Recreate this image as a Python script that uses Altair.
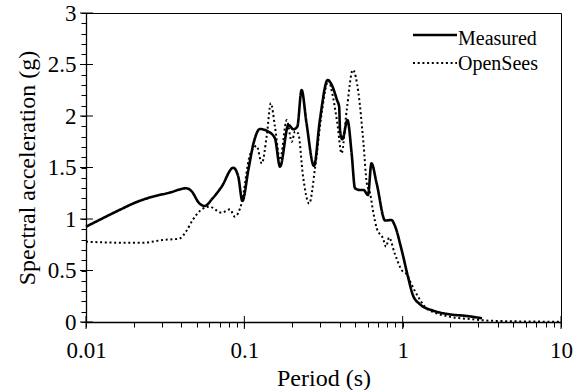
import altair as alt
import pandas as pd

# Measured response spectrum (period s, Sa g)
meas_T = [0.01, 0.01275, 0.01624, 0.02069, 0.02636, 0.0336, 0.0428, 0.0461, 0.052, 0.056,
          0.063, 0.0719, 0.0852, 0.0916, 0.0972, 0.106, 0.1143, 0.1255, 0.142, 0.156,
          0.168, 0.19, 0.204, 0.216, 0.23, 0.247, 0.2754, 0.3, 0.3364, 0.357,
          0.3848, 0.397, 0.402, 0.416, 0.448, 0.476, 0.50, 0.536, 0.5665, 0.604,
          0.635, 0.685, 0.776, 0.85, 0.89, 0.985, 1.08, 1.16, 1.28, 1.56,
          1.97, 2.55, 3.17]
meas_Sa = [0.925, 1.007, 1.087, 1.162, 1.217, 1.255, 1.298, 1.275, 1.152, 1.126,
           1.20, 1.314, 1.498, 1.41, 1.175, 1.476, 1.735, 1.874, 1.848, 1.784,
           1.508, 1.913, 1.871, 1.896, 2.252, 1.93, 1.515, 1.961, 2.35, 2.30,
           2.155, 2.09, 1.864, 1.774, 1.961, 1.638, 1.298, 1.282, 1.282, 1.233,
           1.54, 1.346, 0.985, 0.99, 0.94, 0.70, 0.44, 0.262, 0.175, 0.11,
           0.075, 0.058, 0.036]

# OpenSees response spectrum
ops_T = [0.01, 0.0162, 0.0228, 0.0305, 0.0388, 0.0428, 0.0472, 0.0532, 0.0601, 0.0719,
         0.0811, 0.087, 0.096, 0.1085, 0.1197, 0.1289, 0.1387, 0.147, 0.156, 0.168,
         0.1854, 0.1993, 0.209, 0.219, 0.235, 0.2568, 0.28, 0.3088, 0.3393, 0.3625,
         0.3867, 0.4113, 0.4435, 0.4845, 0.526, 0.5655, 0.5935, 0.6226, 0.6538, 0.686,
         0.752, 0.785, 0.82, 0.89, 0.985, 1.07, 1.13, 1.25, 1.38, 1.64,
         1.97, 2.78, 3.5, 5.0, 7.0, 10.0]
ops_Sa = [0.78, 0.77, 0.77, 0.796, 0.81, 0.877, 0.99, 1.087, 1.12, 1.061,
          1.094, 1.023, 1.152, 1.621, 1.709, 1.54, 1.816, 2.123, 1.9, 1.573,
          1.96, 1.75, 1.85, 1.83, 1.41, 1.15, 1.50, 2.04, 2.343, 2.188,
          1.929, 1.638, 2.06, 2.447, 2.22, 1.735, 1.346, 1.25, 1.055, 0.91,
          0.81, 0.73, 0.82, 0.667, 0.505, 0.456, 0.375, 0.246, 0.149, 0.084,
          0.052, 0.026, 0.013, 0.007, 0.004, 0.003]

series_names = ["Measured", "OpenSees"]

x_ticks = [0.01, 0.02, 0.03, 0.04, 0.05, 0.06, 0.07, 0.08, 0.09,
           0.1, 0.2, 0.3, 0.4, 0.5, 0.6, 0.7, 0.8, 0.9,
           1, 2, 3, 4, 5, 6, 7, 8, 9, 10]
x_major = [0.01, 0.1, 1, 10]
y_ticks = [round(i * 0.1, 1) for i in range(31)]
y_major = [0, 0.5, 1, 1.5, 2, 2.5, 3]

df = pd.concat([
    pd.DataFrame({"T": meas_T, "Sa": meas_Sa, "series": series_names[0]}),
    pd.DataFrame({"T": ops_T, "Sa": ops_Sa, "series": series_names[1]}),
])

W, H = 475, 309
FONT = "Liberation Serif, Times New Roman, serif"
DASHES = [[1, 0], [2, 2.7]]
WIDTHS = [2.6, 2.0]

common = dict(labelFont=FONT, titleFont=FONT, labelFontSize=23, titleFontSize=24,
              labelColor="black", titleColor="black", titleFontWeight="normal",
              domainColor="black", domainWidth=1.3, tickColor="black", tickWidth=1,
              grid=False, tickSize=5, labelOverlap=False)

xscale = alt.Scale(type="log", domain=[0.01, 10], nice=False)
yscale = alt.Scale(domain=[0, 3], nice=False)
xaxis = alt.Axis(values=x_ticks, format="~g", labelFlush=False,
                 labelExpr="(abs(log(datum.value)/log(10) - round(log(datum.value)/log(10))) < 0.001) ? datum.label : ''",
                 labelPadding=12, titlePadding=4, **common)
yaxis = alt.Axis(values=y_ticks, format=".1~f",
                 labelExpr="(abs(datum.value*2 - round(datum.value*2)) < 0.001) ? datum.label : ''",
                 labelPadding=5, titlePadding=8, **common)
XT = "Period (s)"
YT = "Spectral acceleration (g)"

lines = alt.Chart(df).mark_line(interpolate="monotone", color="black", strokeCap="butt").encode(
    x=alt.X("T:Q", scale=xscale, title=XT, axis=xaxis),
    y=alt.Y("Sa:Q", scale=yscale, title=YT, axis=yaxis),
    strokeDash=alt.StrokeDash("series:N", scale=alt.Scale(domain=series_names, range=DASHES), legend=None),
    strokeWidth=alt.StrokeWidth("series:N", scale=alt.Scale(domain=series_names, range=WIDTHS), legend=None),
    order=alt.Order("T:Q"),
)

ymaj = alt.Chart(pd.DataFrame({"v": y_major})).mark_rule(color="black", strokeWidth=1).encode(
    y=alt.Y("v:Q", scale=yscale, title=YT, axis=yaxis), x=alt.value(-6), x2=alt.value(7))
xmaj = alt.Chart(pd.DataFrame({"v": x_major})).mark_rule(color="black", strokeWidth=1).encode(
    x=alt.X("v:Q", scale=xscale, title=XT, axis=xaxis), y=alt.value(H - 6), y2=alt.value(H + 7))

# legend (top-right, inside the plot)
LEG_LINE_Y = [22, 50]
LEG_TEXT_Y = [32, 57]
legend_layers = []
for i, name in enumerate(series_names):
    ldf = pd.DataFrame({"series": [name]})
    legend_layers.append(
        alt.Chart(ldf).mark_rule(color="black", strokeDash=DASHES[i], strokeWidth=WIDTHS[i] - 0.2,
                                 strokeCap="butt").encode(
            x=alt.value(327), x2=alt.value(371), y=alt.value(LEG_LINE_Y[i])))
    legend_layers.append(
        alt.Chart(ldf).mark_text(align="left", baseline="alphabetic", font=FONT, fontSize=20,
                                 color="black").encode(
            text="series:N", x=alt.value(372), y=alt.value(LEG_TEXT_Y[i])))

chart = alt.layer(lines, ymaj, xmaj, *legend_layers).properties(
    width=W, height=H,
    background="white",
    autosize=alt.AutoSizeParams(type="none"),
    padding={"left": 86, "top": 13, "right": 13, "bottom": 68},
).configure_view(stroke="black", strokeWidth=1)

chart.save("out.html", embed_options={"renderer": "svg", "actions": False})
